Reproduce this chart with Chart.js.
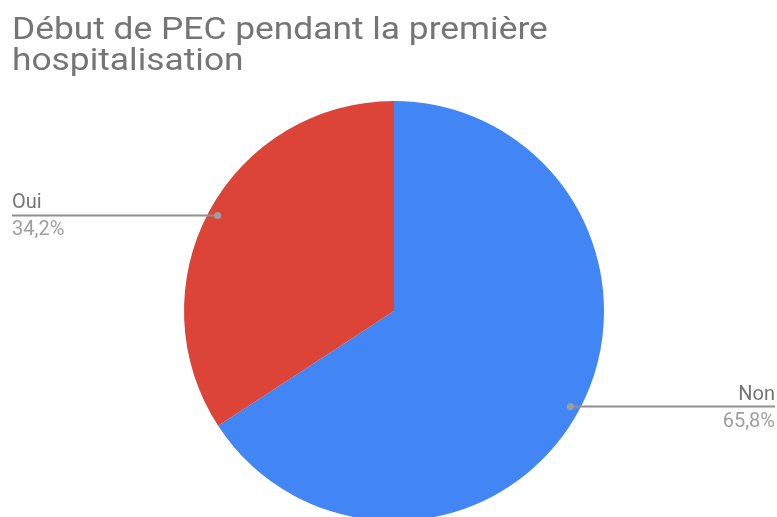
<!DOCTYPE html>
<html>
<head>
<meta charset="utf-8">
<script src="https://cdn.jsdelivr.net/npm/chart.js"></script>
<style>
  html, body { margin: 0; padding: 0; background: #fff; overflow: hidden; }
  #page { position: relative; width: 777px; height: 517px; overflow: hidden; }
  #box { position: absolute; left: 0; top: 0; width: 777px; height: 540px; }
  #titre {
    position: absolute; left: 12px; top: 13px; white-space: nowrap;
    font-family: Roboto, sans-serif; font-size: 31px; line-height: 31px;
    color: #757575; z-index: 2;
    transform: scaleX(1.14); transform-origin: 0 0;
  }
</style>
</head>
<body>
<div id="page">
  <div id="titre">Début de PEC pendant la première<br>hospitalisation</div>
  <div id="box"><canvas id="myChart"></canvas></div>
</div>
<script>
const categories = ['Non', 'Oui'];
const valeurs = [65.8, 34.2];
const couleurs = ['#4285f4', '#db4437'];

// étiquettes avec trait de rappel, façon Google Sheets
const etiquettes = {
  id: 'etiquettes',
  afterDatasetsDraw(chart) {
    const c = chart.ctx;
    const arcs = chart.getDatasetMeta(0).data;
    arcs.forEach((arc, i) => {
      const p = arc.getProps(['x', 'y', 'startAngle', 'endAngle', 'outerRadius'], true);
      const mid = (p.startAngle + p.endAngle) / 2;
      const px = p.x + Math.cos(mid) * p.outerRadius * 0.955;
      const py = p.y + Math.sin(mid) * p.outerRadius * 0.955;
      const gauche = Math.cos(mid) < 0;
      const bord = gauche ? 12 : 775;

      c.save();
      c.strokeStyle = '#8f8f8f';
      c.lineWidth = 2;
      c.beginPath();
      c.moveTo(px, py);
      c.lineTo(bord, py);
      c.stroke();

      c.fillStyle = '#9e9e9e';
      c.beginPath();
      c.arc(px, py, 3.5, 0, Math.PI * 2);
      c.fill();

      c.font = '20px Roboto, sans-serif';
      c.textAlign = gauche ? 'left' : 'right';
      c.textBaseline = 'alphabetic';
      c.fillStyle = '#757575';
      c.fillText(categories[i], bord, py - 7);
      c.fillStyle = '#9e9e9e';
      c.fillText(valeurs[i].toFixed(1).replace('.', ',') + '%', bord, py + 20);
      c.restore();
    });
  }
};

const ctx = document.getElementById('myChart').getContext('2d');
new Chart(ctx, {
  type: 'pie',
  data: {
    labels: categories,
    datasets: [{
      data: valeurs,
      backgroundColor: couleurs,
      borderWidth: 0
    }]
  },
  options: {
    responsive: true,
    maintainAspectRatio: false,
    animation: false,
    layout: { padding: { top: 101, bottom: 19, left: 184, right: 173 } },
    plugins: {
      legend: { display: false },
      tooltip: { enabled: false }
    }
  },
  plugins: [etiquettes]
});
</script>
</body>
</html>
